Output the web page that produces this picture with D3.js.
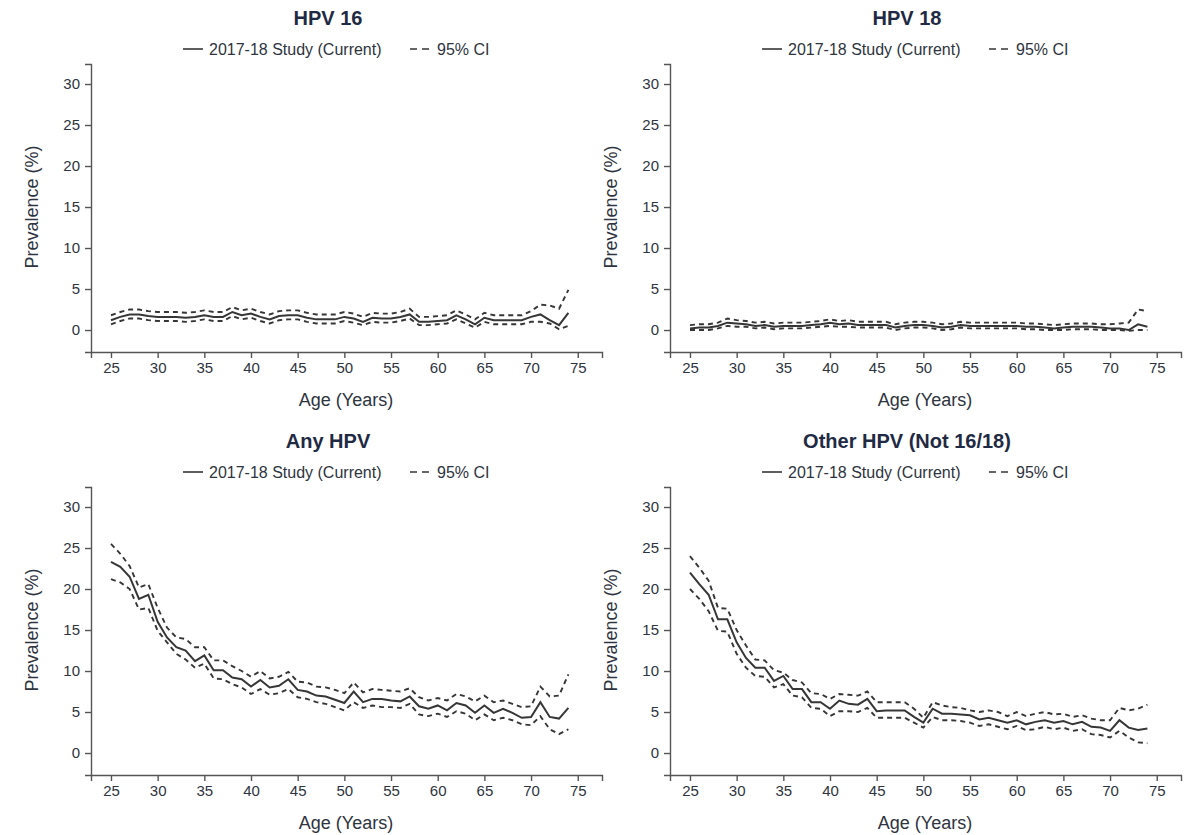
<!DOCTYPE html>
<html>
<head>
<meta charset="utf-8">
<script src="https://cdn.jsdelivr.net/npm/d3@7"></script>
<style>
  body { margin: 0; background: #fff; }
  svg { font-family: "Liberation Sans", Arial, sans-serif; }
  .tick text { font-size: 15px; fill: #2e3440; }
  .axis path, .axis line { stroke: #555; stroke-width: 1.4; }
</style>
</head>
<body>
<svg id="chart" width="1187" height="835"></svg>
<script>
// Ages on the x axis
var ages = [25,26,27,28,29,30,31,32,33,34,35,36,37,38,39,40,41,42,43,44,45,46,47,48,49,
            50,51,52,53,54,55,56,57,58,59,60,61,62,63,64,65,66,67,68,69,70,71,72,73,74];
var xTicks = [25,30,35,40,45,50,55,60,65,70,75];
var yTicks = [0,5,10,15,20,25,30];

// HPV 16
var hpv16   = [1.2,1.6,1.9,1.9,1.7,1.6,1.6,1.6,1.5,1.6,1.8,1.6,1.6,2.2,1.8,2.0,1.6,1.3,1.7,1.8,1.8,1.5,1.3,1.3,1.3,
               1.6,1.4,1.0,1.5,1.4,1.4,1.6,1.9,1.0,1.0,1.1,1.2,1.8,1.3,0.7,1.5,1.2,1.2,1.2,1.2,1.6,1.9,1.2,0.6,2.1];
var hpv16Up = [1.8,2.2,2.5,2.5,2.3,2.2,2.2,2.2,2.1,2.2,2.4,2.2,2.2,2.8,2.4,2.6,2.2,1.9,2.3,2.4,2.4,2.1,1.9,1.9,1.9,
               2.2,2.0,1.6,2.1,2.0,2.0,2.2,2.6,1.6,1.6,1.7,1.8,2.4,1.9,1.3,2.1,1.8,1.8,1.8,1.8,2.3,3.1,3.0,2.6,4.9];
var hpv16Lo = [0.7,1.1,1.4,1.4,1.2,1.1,1.1,1.1,1.0,1.1,1.3,1.1,1.1,1.7,1.3,1.5,1.1,0.8,1.2,1.3,1.3,1.0,0.8,0.8,0.8,
               1.1,0.9,0.6,1.0,0.9,0.9,1.1,1.4,0.6,0.6,0.7,0.8,1.3,0.8,0.3,1.0,0.7,0.7,0.7,0.7,1.0,1.0,0.8,0.1,0.5];

// HPV 18
var hpv18   = [0.2,0.3,0.3,0.5,0.9,0.8,0.7,0.5,0.6,0.4,0.5,0.5,0.5,0.6,0.7,0.9,0.7,0.8,0.6,0.6,0.6,0.6,0.3,0.5,0.6,
               0.6,0.5,0.3,0.4,0.6,0.5,0.5,0.5,0.5,0.5,0.5,0.4,0.4,0.3,0.2,0.3,0.4,0.4,0.4,0.3,0.2,0.2,0.0,0.7,0.4];
var hpv18Up = [0.6,0.7,0.7,0.9,1.4,1.2,1.1,0.9,1.0,0.8,0.9,0.9,0.9,1.0,1.1,1.3,1.1,1.2,1.0,1.0,1.0,1.0,0.7,0.9,1.0,
               1.0,0.9,0.7,0.8,1.0,0.9,0.9,0.9,0.9,0.9,0.9,0.8,0.8,0.7,0.6,0.7,0.8,0.8,0.8,0.7,0.7,0.8,0.9,2.5,2.3];
var hpv18Lo = [0.0,0.0,0.0,0.2,0.5,0.4,0.4,0.2,0.3,0.1,0.2,0.2,0.2,0.3,0.4,0.5,0.4,0.4,0.3,0.3,0.3,0.3,0.0,0.2,0.3,
               0.3,0.2,0.0,0.1,0.3,0.2,0.2,0.2,0.2,0.2,0.2,0.1,0.1,0.0,0.0,0.0,0.1,0.1,0.1,0.0,0.0,0.0,-0.1,0.0,0.0];

// Any HPV
var anyHpv   = [23.3,22.7,21.5,18.8,19.3,16.0,14.1,12.9,12.5,11.2,11.9,10.1,10.1,9.2,9.0,8.1,8.9,8.0,8.2,9.0,7.7,7.5,7.0,6.9,6.5,
                6.1,7.5,6.2,6.6,6.6,6.4,6.3,6.9,5.7,5.4,5.8,5.2,6.1,5.8,4.9,5.8,4.9,5.4,4.9,4.3,4.4,6.2,4.4,4.2,5.5];
var anyHpvUp = [25.5,24.3,22.8,20.2,20.6,17.7,15.3,14.1,13.9,12.9,12.9,11.3,11.3,10.6,10.0,9.3,10.0,9.1,9.3,9.9,8.7,8.6,8.1,8.0,7.7,
                7.3,8.6,7.4,7.8,7.7,7.6,7.5,7.9,6.8,6.4,6.7,6.4,7.2,6.9,6.3,7.0,6.2,6.4,6.0,5.6,5.7,8.1,6.9,7.0,9.6];
var anyHpvLo = [21.2,20.8,20.0,17.5,17.7,14.9,13.5,12.1,11.4,10.4,10.9,9.1,9.0,8.4,8.0,7.2,7.8,7.1,7.3,7.8,6.8,6.6,6.2,6.0,5.6,
                5.2,6.2,5.5,5.8,5.6,5.6,5.5,6.0,4.7,4.5,4.8,4.4,5.1,4.8,4.0,4.7,4.0,4.3,4.0,3.5,3.4,4.5,2.9,2.3,2.9];

// Other HPV (Not 16/18)
var otherHpv   = [22.0,20.6,19.3,16.3,16.3,13.5,11.6,10.4,10.4,8.8,9.4,7.8,7.8,6.2,6.2,5.4,6.4,6.0,5.9,6.6,5.1,5.2,5.2,5.2,4.4,
                  3.7,5.4,4.8,4.8,4.7,4.6,4.1,4.3,4.0,3.7,4.0,3.5,3.8,4.0,3.7,3.9,3.5,3.8,3.2,3.1,2.7,4.0,3.1,2.8,3.0];
var otherHpvUp = [24.0,22.6,21.0,17.7,17.6,15.0,13.1,11.4,11.3,10.1,9.8,8.9,8.6,7.3,7.2,6.6,7.2,7.1,7.0,7.5,6.2,6.2,6.2,6.2,5.4,
                  4.3,6.2,5.8,5.6,5.5,5.2,5.0,5.2,5.0,4.5,5.0,4.5,4.8,5.0,4.7,4.8,4.4,4.6,4.2,4.0,4.0,5.5,5.2,5.4,5.9];
var otherHpvLo = [20.0,18.8,17.3,14.9,14.8,12.1,10.4,9.4,9.3,8.0,8.4,7.0,6.8,5.5,5.4,4.5,5.1,5.1,5.0,5.5,4.3,4.3,4.3,4.3,3.7,
                  3.1,4.4,4.0,4.0,3.9,3.7,3.3,3.5,3.2,2.9,3.3,2.8,2.9,3.2,2.9,3.1,2.7,2.9,2.3,2.2,1.9,2.7,1.9,1.3,1.2];

var titles = ['HPV 16', 'HPV 18', 'Any HPV', 'Other HPV (Not 16/18)'];
var legendLabels = ['2017-18 Study (Current)', '95% CI'];

var panels = [
    { title: titles[0], est: hpv16, up: hpv16Up, lo: hpv16Lo, dx: 0, dy: 0 },
    { title: titles[1], est: hpv18, up: hpv18Up, lo: hpv18Lo, dx: 579, dy: 0 },
    { title: titles[2], est: anyHpv, up: anyHpvUp, lo: anyHpvLo, dx: 0, dy: 423 },
    { title: titles[3], est: otherHpv, up: otherHpvUp, lo: otherHpvLo, dx: 579, dy: 423 },
];

var svg = d3.select('#chart');
var ink = '#363636';

function drawPanel(p) {
    var g = svg.append('g').attr('transform', `translate(${p.dx},${p.dy})`);

    // axis frame: y axis line at x=91, x axis line at y=352
    var x = d3.scaleLinear().domain([22.86, 77.6]).range([91, 602]);
    var y = d3.scaleLinear().domain([-2.68, 32.44]).range([352, 64]);

    g.append('g')
        .attr('class', 'axis')
        .attr('transform', 'translate(0,352)')
        .call(d3.axisBottom(x).tickValues(xTicks).tickSizeOuter(0).tickSize(6).tickPadding(4));
    g.append('g')
        .attr('class', 'axis')
        .attr('transform', 'translate(91,0)')
        .call(d3.axisLeft(y).tickValues(yTicks).tickSizeOuter(0).tickSize(6).tickPadding(5));

    g.append('text')
        .attr('x', 346).attr('y', 406)
        .attr('text-anchor', 'middle')
        .style('font-size', '18px').style('fill', '#2e3440')
        .text('Age (Years)');
    g.append('text')
        .attr('transform', 'translate(38,207) rotate(-90)')
        .attr('text-anchor', 'middle')
        .style('font-size', '18px').style('fill', '#2e3440')
        .text('Prevalence (%)');

    // title and legend
    g.append('text')
        .attr('x', 328).attr('y', 25)
        .attr('text-anchor', 'middle')
        .style('font-size', '20px').style('font-weight', 'bold').style('fill', '#1f2a44')
        .text(p.title);

    var leg = g.append('g').attr('transform', 'translate(183,49)');
    leg.append('line').attr('x1', 0).attr('x2', 20).attr('y1', 0).attr('y2', 0)
        .attr('stroke', ink).attr('stroke-width', 1.6);
    leg.append('text').attr('x', 26).attr('y', 5.5)
        .style('font-size', '16px').style('fill', '#2e3440')
        .text(legendLabels[0]);
    leg.append('line').attr('x1', 227).attr('x2', 249).attr('y1', 0).attr('y2', 0)
        .attr('stroke', ink).attr('stroke-width', 1.6).attr('stroke-dasharray', '7,5');
    leg.append('text').attr('x', 254).attr('y', 5.5)
        .style('font-size', '16px').style('fill', '#2e3440')
        .text(legendLabels[1]);

    var line = d3.line()
        .x((d) => x(d[0]))
        .y((d) => y(d[1]));

    [p.up, p.lo].forEach((series) => {
        g.append('path')
            .datum(ages.map((a, i) => [a, series[i]]))
            .attr('d', line)
            .attr('fill', 'none')
            .attr('stroke', ink)
            .attr('stroke-width', 1.9)
            .attr('stroke-dasharray', '5,4');
    });
    g.append('path')
        .datum(ages.map((a, i) => [a, p.est[i]]))
        .attr('d', line)
        .attr('fill', 'none')
        .attr('stroke', ink)
        .attr('stroke-width', 2);
}

panels.forEach(drawPanel);
</script>
</body>
</html>
